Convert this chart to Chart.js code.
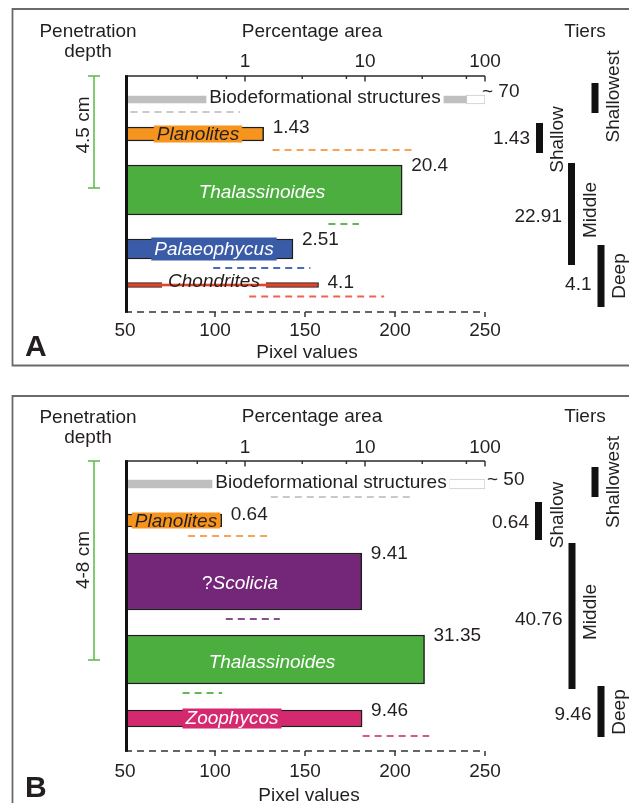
<!DOCTYPE html>
<html><head><meta charset="utf-8">
<script src="https://cdn.jsdelivr.net/npm/chart.js@4/dist/chart.umd.min.js"></script>
<style>
html,body{margin:0;padding:0;background:#fff;}
#wrap{position:relative;width:629px;height:803px;overflow:hidden;background:#fff;}
canvas{position:absolute;left:0;}
#cA{top:0;}
#cB{top:390px;}
</style></head>
<body>
<div id="wrap">
<canvas id="cA" width="629" height="390"></canvas>
<canvas id="cB" width="629" height="413"></canvas>
</div>
<script>
// ---------------- DATA ----------------
// Panel A
const tracesA   = ['Biodeformational structures', 'Planolites', 'Thalassinoides', 'Palaeophycus', 'Chondrites'];
const areaA     = [70, 1.43, 20.4, 2.51, 4.1];          // percentage area
const pixLowA   = [53, 132, 163, 99, 119];               // pixel value range (dashed lines)
const pixHighA  = [114, 211, 180, 153, 194];
const tierAreaA = [null, 1.43, 22.91, 4.1];
const depthA    = '4.5 cm';
// Panel B
const tracesB   = ['Biodeformational structures', 'Planolites', '?Scolicia', 'Thalassinoides', 'Zoophycos'];
const areaB     = [50, 0.64, 9.41, 31.35, 9.46];
const pixLowB   = [131, 85, 106, 82, 182];
const pixHighB  = [209, 129, 136, 104, 219];
const tierAreaB = [null, 0.64, 40.76, 9.46];
const depthB    = '4-8 cm';
// shared
const tierNames = ['Shallowest', 'Shallow', 'Middle', 'Deep'];
const pctTickLabels = [1, 10, 100];
const pixTickLabels = [50, 100, 150, 200, 250];
const PCT_MIN = 0.1, PCT_MAX = 100, PIX_MIN = 50, PIX_MAX = 250;

// ---------------- LAYOUT / STYLE ----------------
const FONT = '"Liberation Sans", Arial, Helvetica, sans-serif';
const INK = '#231f20';
const fnt = (s, st) => (st ? st + ' ' : '') + s + 'px ' + FONT;

const layoutA = {
  letter: 'A', top: 0, height: 390, areaTop: 76, areaBottom: 312,
  rowY: [23.5, 58, 114, 173, 209], thick: [7, 14, 50, 20, 5],
  colors: ['#bfbfbf', '#f7941e', '#4cae3f', '#3a5ba8', '#e2442b'],
  dash: ['#c9c9c9', '#f5a45a', '#62b952', '#4a6bb5', '#ee6450'],
  outline: [0, 1.5, 1.5, 1.5, 1.2],
  labelPos: [[325, 103], [198, 140], [262, 198], [214, 255], [214, 287]],
  labelColor: [INK, INK, '#fff', '#fff', INK],
  labelBox: ['#fff', true, null, true, true],
  bioVal: [482, 97],
  frame: { top: 9, bottom: 365.5 },
  penet: [37, 57], titleTop: 37, pctLabelBase: 67, pixLabelBase: 336, pixTitleBase: 358, titleX: 312, pixTitleX: 307,
  letterBase: 356,
  tierX: [595, 539.5, 571.5, 601], tierSpan: [[83, 113], [123, 153], [163, 265], [245, 307]],
  tierValBase: [0, 144, 222, 290],
  tierLabel: [[619, 96.5], [562.5, 139.5], [595.5, 210], [625, 276]],
  beam: [76, 188], depthLabelY: 125
};
const layoutB = {
  letter: 'B', top: 390, height: 413, areaTop: 461, areaBottom: 751,
  rowY: [23, 59.5, 120.5, 198.5, 257.5], thick: [8, 13, 57, 49, 17],
  colors: ['#bfbfbf', '#f7941e', '#742679', '#4cae3f', '#d4296e'],
  dash: ['#c9c9c9', '#f5a45a', '#8a4d8e', '#62b952', '#d8558d'],
  outline: [0, 1.5, 1.5, 1.5, 1.5],
  labelPos: [[331, 488], [176, 527], [240, 589], [272, 668], [232, 724]],
  labelColor: [INK, INK, '#fff', '#fff', '#fff'],
  labelBox: ['#fff', true, null, null, true],
  bioVal: [487, 485],
  frame: { top: 396, bottom: null },
  penet: [423, 443], titleTop: 422, pctLabelBase: 453, pixLabelBase: 777, pixTitleBase: 801, titleX: 312, pixTitleX: 309,
  letterBase: 797,
  tierX: [595, 538.5, 572, 601], tierSpan: [[467, 497], [502, 540], [543, 689], [686, 737]],
  tierValBase: [0, 528, 625, 720],
  tierLabel: [[619, 482], [562.5, 515], [595.5, 612], [625, 712]],
  beam: [461, 660], depthLabelY: 560
};

function rotText(ctx, txt, bx, cy) {
  ctx.save();
  ctx.translate(bx, cy);
  ctx.rotate(-Math.PI / 2);
  ctx.textAlign = 'center';
  ctx.textBaseline = 'alphabetic';
  ctx.fillText(txt, 0, 0);
  ctx.restore();
}

function makePlugin(P, names, area, tierVals, depthTxt) {
  const Y = a => a - P.top;
  return {
    id: 'decor' + P.letter,
    beforeDraw(chart) {
      const ctx = chart.ctx;
      ctx.save();
      ctx.fillStyle = '#fff';
      ctx.fillRect(0, 0, chart.width, chart.height);
      ctx.strokeStyle = '#6a6a6a';
      ctx.lineWidth = 1.8;
      ctx.beginPath();
      ctx.moveTo(700, Y(P.frame.top));
      ctx.lineTo(12.5, Y(P.frame.top));
      if (P.frame.bottom !== null) {
        ctx.lineTo(12.5, Y(P.frame.bottom));
        ctx.lineTo(700, Y(P.frame.bottom));
      } else {
        ctx.lineTo(12.5, chart.height + 10);
      }
      ctx.stroke();
      ctx.restore();
    },
    afterDatasetsDraw(chart) {
      const ctx = chart.ctx, ca = chart.chartArea;
      const xL = chart.scales.xLog, xP = chart.scales.xPix;
      ctx.save();
      ctx.textBaseline = 'alphabetic';

      // ---- bar labels and values ----
      names.forEach((name, i) => {
        const el = chart.getDatasetMeta(i).data[0];
        const top = el.y - el.height / 2;
        const italic = i !== 0;
        const parts = name.startsWith('?') ? [['?', ''], [name.slice(1), 'italic']] : [[name, italic ? 'italic' : '']];
        let w = 0;
        parts.forEach(p => { ctx.font = fnt(19, p[1]); p.push(ctx.measureText(p[0]).width); w += p[2]; });
        const x0 = P.labelPos[i][0] - w / 2, by = Y(P.labelPos[i][1]);
        if (P.labelBox[i]) {
          if (P.labelBox[i] === true && el.height < 8) {
            // thin bar: outline removed behind the name, only a thin coloured line remains
            ctx.fillStyle = '#fff';
            ctx.fillRect(x0 - 6, top - 1.5, w + 12, el.height + 3);
            ctx.fillStyle = P.colors[i];
            ctx.fillRect(x0 - 8, el.y - 1.3, w + 16, 2.6);
          } else {
            ctx.fillStyle = P.labelBox[i] === true ? P.colors[i] : P.labelBox[i];
            ctx.fillRect(x0 - 3, top - 1.5, w + 6, el.height + 3);
          }
        }
        ctx.fillStyle = P.labelColor[i];
        ctx.textAlign = 'left';
        let x = x0;
        parts.forEach(p => { ctx.font = fnt(19, p[1]); ctx.fillText(p[0], x, by); x += p[2]; });
        ctx.font = fnt(19);
        ctx.fillStyle = INK;
        if (i === 0) ctx.fillText('~ ' + area[0], P.bioVal[0], Y(P.bioVal[1]));
        else ctx.fillText(String(area[i]), el.x + 9, top + 5.5);
      });

      // ---- top log axis ----
      ctx.strokeStyle = '#2a2a2a';
      ctx.lineWidth = 1.4;
      const xEnd = xL.getPixelForValue(PCT_MAX);
      ctx.beginPath(); ctx.moveTo(ca.left, ca.top); ctx.lineTo(xEnd, ca.top); ctx.stroke();
      let tv = (xL.ticks || []).map(t => t.value);
      if (!tv.length) { tv = []; [0.1, 1, 10].forEach(d => { for (let k = 1; k <= 9; k++) tv.push(d * k); }); tv.push(100); }
      tv.forEach(v => {
        if (v <= PCT_MIN * 1.0001) return;
        const px = xL.getPixelForValue(v);
        const lg = Math.log10(v);
        const major = Math.abs(lg - Math.round(lg)) < 1e-6;
        ctx.beginPath(); ctx.moveTo(px, ca.top); ctx.lineTo(px, ca.top + (major ? 5.5 : 3)); ctx.stroke();
      });
      ctx.font = fnt(19); ctx.fillStyle = INK; ctx.textAlign = 'center';
      pctTickLabels.forEach(v => ctx.fillText(String(v), xL.getPixelForValue(v), Y(P.pctLabelBase)));
      ctx.fillText('Percentage area', P.titleX, Y(P.titleTop));

      // ---- bottom pixel axis ----
      ctx.strokeStyle = '#333';
      ctx.lineWidth = 1.5;
      ctx.setLineDash([7, 5]);
      ctx.beginPath(); ctx.moveTo(ca.left, ca.bottom); ctx.lineTo(xP.getPixelForValue(PIX_MAX), ca.bottom); ctx.stroke();
      ctx.setLineDash([]);
      pixTickLabels.forEach(v => {
        const px = xP.getPixelForValue(v);
        if (v !== PIX_MIN) { ctx.beginPath(); ctx.moveTo(px, ca.bottom); ctx.lineTo(px, ca.bottom + 5); ctx.stroke(); }
        ctx.fillText(String(v), px, Y(P.pixLabelBase));
      });
      ctx.fillText('Pixel values', P.pixTitleX, Y(P.pixTitleBase));

      // ---- left thick axis ----
      ctx.strokeStyle = '#111';
      ctx.lineWidth = 3;
      ctx.beginPath(); ctx.moveTo(ca.left + 1.5, ca.top - 0.7); ctx.lineTo(ca.left + 1.5, ca.bottom + 0.7); ctx.stroke();

      // ---- penetration depth ----
      ctx.fillStyle = INK;
      ctx.fillText('Penetration', 88, Y(P.penet[0]));
      ctx.fillText('depth', 88, Y(P.penet[1]));
      ctx.strokeStyle = '#5cb848';
      ctx.lineWidth = 1.5;
      ctx.beginPath();
      ctx.moveTo(94, Y(P.beam[0])); ctx.lineTo(94, Y(P.beam[1]));
      ctx.moveTo(88, Y(P.beam[0])); ctx.lineTo(100, Y(P.beam[0]));
      ctx.moveTo(88, Y(P.beam[1])); ctx.lineTo(100, Y(P.beam[1]));
      ctx.stroke();
      rotText(ctx, depthTxt, 88.5, Y(P.depthLabelY));

      // ---- tiers ----
      ctx.fillText('Tiers', 585, Y(P.titleTop));
      tierNames.forEach((t, k) => {
        const [a, b] = P.tierSpan[k];
        ctx.fillStyle = '#111';
        ctx.fillRect(P.tierX[k] - 3.5, Y(a), 7, b - a);
        ctx.fillStyle = INK;
        rotText(ctx, t, P.tierLabel[k][0], Y(P.tierLabel[k][1]));
        if (tierVals[k] !== null) {
          ctx.textAlign = 'right';
          ctx.fillText(String(tierVals[k]), P.tierX[k] - 9.5, Y(P.tierValBase[k]));
          ctx.textAlign = 'center';
        }
      });

      // ---- panel letter ----
      ctx.font = fnt(30, 'bold');
      ctx.textAlign = 'left';
      ctx.fillText(P.letter, 25, Y(P.letterBase));
      ctx.restore();
    }
  };
}

function buildChart(id, P, names, area, lo, hi, tierVals, depthTxt) {
  const datasets = [];
  names.forEach((n, i) => {
    datasets.push({
      type: 'bar', label: n,
      data: [{ x: [PCT_MIN, area[i]], y: P.rowY[i] }],
      xAxisID: 'xLog', yAxisID: 'y', stack: 'rows',
      barThickness: P.thick[i],
      backgroundColor: P.colors[i],
      borderColor: P.outline[i] ? '#1e1e1e' : P.colors[i],
      borderWidth: P.outline[i],
      borderSkipped: false
    });
  });
  // remainder of biodeformational structures up to 100 %
  datasets.push({
    type: 'bar', label: 'remainder',
    data: [{ x: [area[0], PCT_MAX], y: P.rowY[0] }],
    xAxisID: 'xLog', yAxisID: 'y', stack: 'rows',
    barThickness: P.thick[0] + 2,
    backgroundColor: '#ffffff', borderColor: '#cccccc', borderWidth: 1, borderSkipped: false
  });
  // pixel value ranges (dashed)
  names.forEach((n, i) => {
    const dy = P.rowY[i] + P.thick[i] / 2 + 9;
    datasets.push({
      type: 'line', label: n + ' pixel range',
      data: [{ x: lo[i], y: dy }, { x: hi[i], y: dy }],
      xAxisID: 'xPix', yAxisID: 'y',
      borderColor: P.dash[i], borderWidth: 1.8, borderDash: [7, 5],
      pointRadius: 0, fill: false, tension: 0
    });
  });
  return new Chart(document.getElementById(id), {
    type: 'bar',
    data: { datasets },
    options: {
      indexAxis: 'y',
      responsive: false,
      animation: false,
      devicePixelRatio: 1,
      layout: { padding: { left: 125, right: 629 - 485, top: P.areaTop - P.top, bottom: P.height - (P.areaBottom - P.top) } },
      scales: {
        xLog: { type: 'logarithmic', axis: 'x', position: 'top', min: PCT_MIN, max: PCT_MAX, display: false, stacked: false },
        xPix: { type: 'linear', axis: 'x', position: 'bottom', min: PIX_MIN, max: PIX_MAX, display: false, ticks: { stepSize: 50 } },
        y: { type: 'linear', axis: 'y', min: 0, max: P.areaBottom - P.areaTop, reverse: true, display: false, offset: false }
      },
      plugins: { legend: { display: false }, tooltip: { enabled: false } }
    },
    plugins: [makePlugin(P, names, area, tierVals, depthTxt)]
  });
}

buildChart('cA', layoutA, tracesA, areaA, pixLowA, pixHighA, tierAreaA, depthA);
buildChart('cB', layoutB, tracesB, areaB, pixLowB, pixHighB, tierAreaB, depthB);
</script>
</body></html>
